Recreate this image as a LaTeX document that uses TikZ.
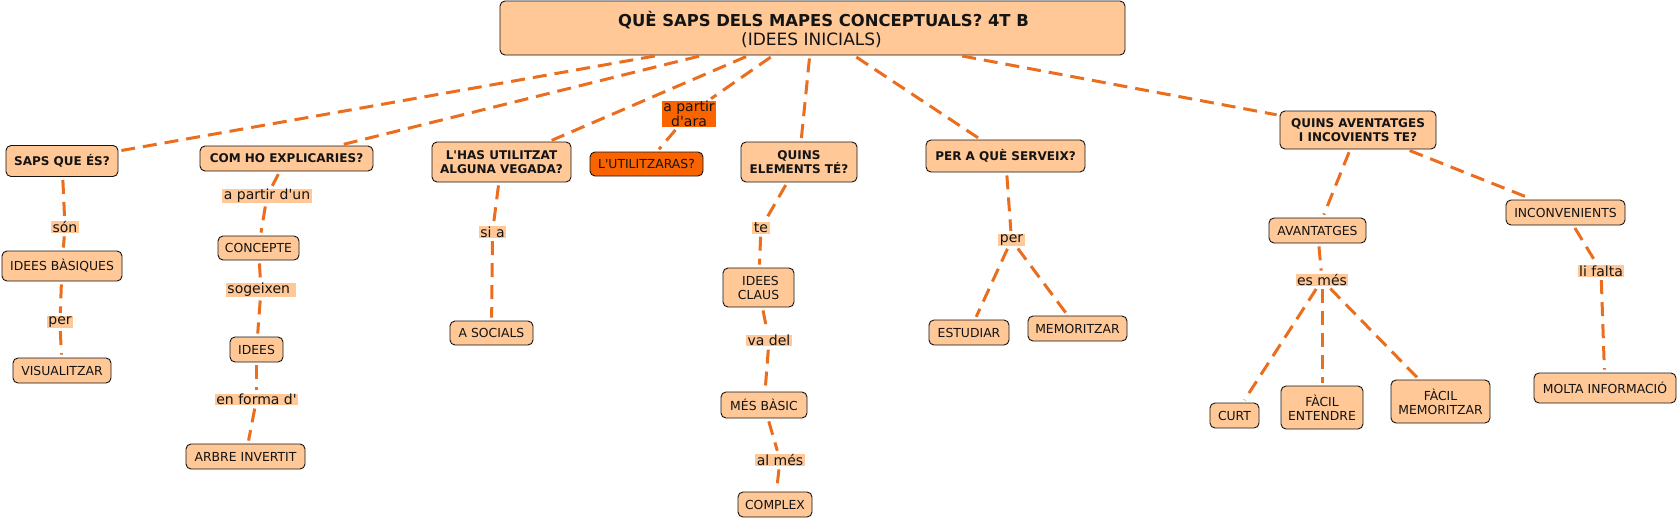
\documentclass[tikz,border=0pt]{standalone}
\usepackage{fontspec}
\setmainfont{DejaVu Sans}[Ligatures=TeXOff]
\definecolor{cfill}{HTML}{FFC896}
\definecolor{lnk}{HTML}{EB6E1F}
\definecolor{dorange}{HTML}{F96300}
\definecolor{ink}{HTML}{141414}
\tikzset{
  concept/.style={draw=ink, line width=0.9pt, fill=cfill, rounded corners=5pt, align=center,
    inner sep=0pt, text=ink, font=\fontsize{12.4}{14}\selectfont},
  bconcept/.style={concept, font=\fontsize{12}{14}\selectfont\bfseries},
  lab/.style={fill=cfill, inner xsep=1.5pt, inner ysep=0.5pt, text=ink, align=center,
    font=\fontsize{14}{15}\selectfont},
  wh/.style 2 args={minimum width=#1pt, minimum height=#2pt},
  link/.style={draw=lnk, line width=3pt, dash pattern=on 14pt off 8pt,
    shorten <=3pt, shorten >=3pt},
}
\begin{document}
\begin{tikzpicture}[x=1pt, y=-1pt]
\fill[white] (0,0) rectangle (1678,520);
\useasboundingbox (0,0) rectangle (1678,520);

% root
\node[concept, wh={625}{54}, font=\fontsize{16.4}{19}\selectfont] (root) at (812.5,28)
  {};
\node[font=\fontsize{16.4}{19}\selectfont\bfseries, text=ink, inner sep=0pt, anchor=base]
  (title) at (823.5,26) {QUÈ SAPS DELS MAPES CONCEPTUALS? 4T B};
\node[font=\fontsize{17}{19}\selectfont, text=ink, inner sep=0pt, anchor=base]
  (subtitle) at (811.5,45) {(IDEES INICIALS)};

% first level
\node[bconcept, wh={112}{31}] (saps) at (62,161) {SAPS QUE ÉS?};
\node[bconcept, wh={173}{25}] (com) at (286.5,158.5) {COM HO EXPLICARIES?};
\node[bconcept, wh={139}{40}] (has) at (501.5,162) {L'HAS UTILITZAT\\ALGUNA VEGADA?};
\node[concept, wh={113}{24}, fill=dorange] (util) at (646.5,164) {L'UTILITZARAS?};
\node[bconcept, wh={116}{40}] (quins) at (799,162) {QUINS\\ELEMENTS TÉ?};
\node[bconcept, wh={159}{32}] (perq) at (1005.5,156) {PER A QUÈ SERVEIX?};
\node[bconcept, wh={156}{38}] (avq) at (1358,130) {QUINS AVENTATGES\\I INCOVIENTS TE?};

% lower concepts
\node[concept, wh={120}{30}] (ib) at (62,266) {IDEES BÀSIQUES};
\node[concept, wh={98}{25}] (vis) at (62,370.5) {VISUALITZAR};
\node[concept, wh={81}{24}] (conc) at (258.5,248) {CONCEPTE};
\node[concept, wh={53}{25}] (idees) at (256.5,349.5) {IDEES};
\node[concept, wh={119}{25}] (arbre) at (245.5,456.5) {ARBRE INVERTIT};
\node[concept, wh={83}{24}] (soc) at (491.5,333) {A SOCIALS};
\node[concept, wh={71}{39}] (ic) at (758.5,287.5) {\ IDEES\\CLAUS};
\node[concept, wh={86}{26}] (mb) at (764,405) {MÉS BÀSIC};
\node[concept, wh={74}{25}] (cx) at (775,504.5) {COMPLEX};
\node[concept, wh={80}{25}] (est) at (969,332.5) {ESTUDIAR};
\node[concept, wh={99}{25}] (mem) at (1077.5,328.5) {MEMORITZAR};
\node[concept, wh={97}{25}] (av) at (1317.5,230.5) {AVANTATGES};
\node[concept, wh={119}{25}] (inc) at (1565.5,212.5) {INCONVENIENTS};
\node[concept, wh={49}{25}] (curt) at (1234.5,415.5) {CURT};
\node[concept, wh={82}{43}] (fe) at (1322,407.5) {FÀCIL\\ENTENDRE};
\node[concept, wh={99}{43}] (fm) at (1440.5,401.5) {FÀCIL\\MEMORITZAR};
\node[concept, wh={142}{30}] (molta) at (1605,388) {MOLTA INFORMACIÓ};

% linking phrases
\node[lab, fill=dorange] (apara) at (689,114) {a partir\\d'ara};
\node[lab] (son) at (65,227) {són};
\node[lab] (per1) at (60,322) {per};
\node[lab] (apun) at (267,196) {a partir d'un};
\node[lab] (sog) at (261,290) {sogeixen\ };
\node[lab] (enf) at (256.5,399.5) {en forma d'};
\node[lab] (sia) at (492.5,232) {si a};
\node[lab] (te) at (761,228) {te};
\node[lab] (vadel) at (769,340.5) {va del};
\node[lab] (almes) at (780,460) {al més};
\node[lab] (per2) at (1011.5,240) {per};
\node[lab] (esmes) at (1322,280) {es més};
\node[lab] (lif) at (1601,271) {li falta};

% connectors
\draw[link] (root) -- (saps);
\draw[link] (root) -- (com);
\draw[link] (root) -- (has);
\draw[link] (root) -- (apara);
\draw[link] (apara) -- (util);
\draw[link] (root) -- (quins);
\draw[link] (root) -- (perq);
\draw[link] (root) -- (avq);

\draw[link] (saps) -- (son);
\draw[link] (son) -- (ib);
\draw[link] (ib) -- (per1);
\draw[link] (per1) -- (vis);

\draw[link] (com) -- (apun);
\draw[link] (apun) -- (conc);
\draw[link] (conc) -- (sog);
\draw[link] (sog) -- (idees);
\draw[link] (idees) -- (enf);
\draw[link] (enf) -- (arbre);

\draw[link] (has) -- (sia);
\draw[link] (sia) -- (soc);

\draw[link] (quins) -- (te);
\draw[link] (te) -- (ic);
\draw[link] (ic) -- (vadel);
\draw[link] (vadel) -- (mb);
\draw[link] (mb) -- (almes);
\draw[link] (almes) -- (cx);

\draw[link] (perq) -- (per2);
\draw[link] (per2) -- (est);
\draw[link] (per2) -- (mem);

\draw[link] (avq) -- (av);
\draw[link] (av) -- (esmes);
\draw[link] (esmes) -- (curt);
\draw[link] (esmes) -- (fe);
\draw[link] (esmes) -- (fm);

\draw[link] (avq) -- (inc);
\draw[link] (inc) -- (lif);
\draw[link] (lif) -- (molta);
\end{tikzpicture}
\end{document}
